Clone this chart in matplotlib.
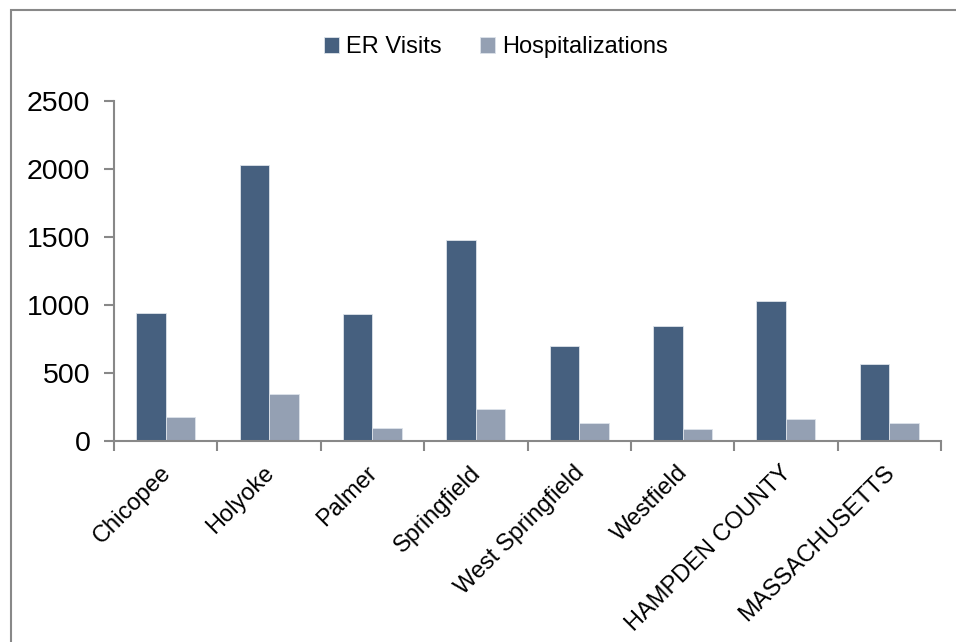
import numpy as np
import matplotlib.pyplot as plt
import matplotlib.transforms as mtransforms
from matplotlib.patches import Rectangle

categories = ['Chicopee', 'Holyoke', 'Palmer', 'Springfield', 'West Springfield',
              'Westfield', 'HAMPDEN COUNTY', 'MASSACHUSETTS']
er_visits = [943, 2027, 931, 1480, 699, 846, 1027, 569]
hospitalizations = [176, 346, 93, 238, 135, 91, 162, 130]

plt.rcParams['font.family'] = ['Liberation Sans', 'DejaVu Sans']

fig = plt.figure(figsize=(9.56, 6.42), dpi=100)
ax = fig.add_axes([114/956, 1-441/642, 827/956, 340/642])

x = np.arange(len(categories))
w = 0.285
c_er = '#46607f'
c_h = '#94a0b3'
ax.bar(x - w/2, er_visits, w, color=c_er, edgecolor='#dde3ea', linewidth=0.6, label='ER Visits')
ax.bar(x + w/2, hospitalizations, w, color=c_h, edgecolor='#dde3ea', linewidth=0.6, label='Hospitalizations')

ax.set_xlim(-0.5, len(categories) - 0.5)
ax.set_ylim(0, 2500)
ax.set_yticks(range(0, 2501, 500))
ax.tick_params(axis='y', labelsize=20.5, direction='out', length=7, width=1.5, color='#888888', pad=10)

ax.set_xticks(x)
ax.set_xticklabels(categories, rotation=45, ha='right', rotation_mode='anchor', fontsize=17)
ax.tick_params(axis='x', length=0, pad=12)
ax.set_xticks(np.arange(-0.5, len(categories)), minor=True)
ax.tick_params(axis='x', which='minor', direction='out', length=7, width=1.5, color='#888888')
shift = mtransforms.ScaledTranslation(-0.06, -0.04, fig.dpi_scale_trans)
for lab in ax.get_xticklabels():
    lab.set_transform(lab.get_transform() + shift)

for s in ['top', 'right']:
    ax.spines[s].set_visible(False)
for s in ['left', 'bottom']:
    ax.spines[s].set_color('#888888')
    ax.spines[s].set_linewidth(1.5)

fig.legend(loc='center', bbox_to_anchor=(496/956, 1-47/642), ncol=2, frameon=False,
           fontsize=17, handlelength=0.65, handleheight=0.65, handletextpad=0.3, columnspacing=1.6)

# outer frame
fig.patches.append(Rectangle((11/956, -0.1), 1.2, 1-10/642+0.1, transform=fig.transFigure,
                             fill=False, edgecolor='#888888', linewidth=1.5))

fig.savefig('out.png', dpi=100)
